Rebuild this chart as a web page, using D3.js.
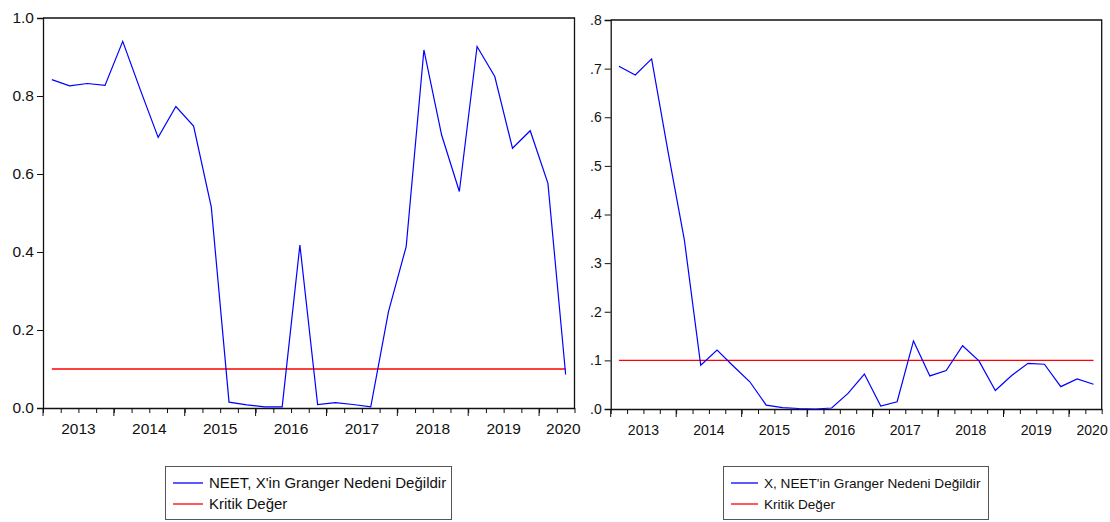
<!DOCTYPE html>
<html>
<head>
<meta charset="utf-8">
<script src="https://cdn.jsdelivr.net/npm/d3@7"></script>
<style>
  body { margin: 0; background: #fff; }
  svg { display: block; font-family: Arial, "Liberation Sans", sans-serif; }
  .axis path, .axis line { stroke: #111; }
</style>
</head>
<body>
<svg id="chart" width="1110" height="522"></svg>
<script>
// Quarterly rolling Granger test p-values, 2013Q1 - 2020Q2
var years = [2013, 2014, 2015, 2016, 2017, 2018, 2019, 2020];

var neetToX = [0.842, 0.826, 0.832, 0.827, 0.940, 0.815, 0.694, 0.773, 0.723, 0.515,
  0.015, 0.008, 0.003, 0.003, 0.418, 0.009, 0.014, 0.009, 0.003, 0.247,
  0.414, 0.918, 0.700, 0.555, 0.927, 0.850, 0.666, 0.711, 0.576, 0.086];

var xToNeet = [0.705, 0.687, 0.720, 0.530, 0.348, 0.090, 0.121, 0.088, 0.056, 0.008,
  0.003, 0.001, 0.000, 0.002, 0.032, 0.072, 0.006, 0.015, 0.140, 0.068,
  0.079, 0.130, 0.099, 0.038, 0.069, 0.094, 0.092, 0.046, 0.062, 0.051];

var critical = 0.1;

var leftTicks = [0, 0.2, 0.4, 0.6, 0.8, 1.0],
  rightTicks = [0, 0.1, 0.2, 0.3, 0.4, 0.5, 0.6, 0.7, 0.8];

var svg = d3.select("#chart");

function drawPanel(cfg) {
  var n = cfg.values.length;

  var x = d3.scaleLinear().domain([0, n]).range([cfg.left, cfg.right]);
  var y = d3.scaleLinear().domain(cfg.domain).range([cfg.bottom, cfg.top]);

  var g = svg.append("g");

  // frame: top and right lines
  g.append("path")
    .attr("d", "M" + cfg.left + "," + cfg.top + "H" + cfg.right + "V" + cfg.bottom)
    .attr("fill", "none")
    .attr("stroke", "#111")
    .attr("stroke-width", 1.3);

  // y axis
  var yAxis = g.append("g")
    .attr("class", "axis")
    .attr("transform", "translate(" + cfg.left + ",0)")
    .call(d3.axisLeft(y)
      .tickValues(cfg.ticks)
      .tickSize(6)
      .tickPadding(3)
      .tickFormat(cfg.format));
  yAxis.select(".domain").attr("stroke-width", 1.3);
  yAxis.selectAll("text").attr("font-size", cfg.fontSize).attr("fill", "#111");

  // x axis, one tick per quarter
  var xAxis = g.append("g")
    .attr("class", "axis")
    .attr("transform", "translate(0," + cfg.bottom + ")")
    .call(d3.axisBottom(x)
      .tickValues(d3.range(0, n + 1))
      .tickSize(5)
      .tickSizeOuter(0)
      .tickFormat(""));
  xAxis.select(".domain").attr("stroke-width", 1.3);

  // longer ticks at the start of each year
  g.append("g")
    .selectAll("line")
    .data(years.map(function(d, i) { return i * 4; }))
    .enter().append("line")
      .attr("x1", function(d) { return x(d); })
      .attr("x2", function(d) { return x(d); })
      .attr("y1", cfg.bottom)
      .attr("y2", cfg.bottom + 8)
      .attr("stroke", "#111");

  // year labels
  g.append("g")
    .selectAll("text")
    .data(years)
    .enter().append("text")
      .attr("x", function(d, i) {
        if (i == years.length - 1) return cfg.right + 6;
        return x(i * 4 + 2);
      })
      .attr("y", cfg.bottom + 26)
      .attr("text-anchor", function(d, i) { return i == years.length - 1 ? "end" : "middle"; })
      .attr("font-size", cfg.fontSize)
      .attr("fill", "#111")
      .text(function(d) { return d; });

  // critical value line
  g.append("line")
    .attr("x1", x(0.5))
    .attr("x2", x(n - 0.5))
    .attr("y1", y(critical))
    .attr("y2", y(critical))
    .attr("stroke", "#ff0000")
    .attr("stroke-width", 1.3);

  // p-value series
  var line = d3.line()
    .x(function(d, i) { return x(i + 0.5); })
    .y(function(d) { return y(d); });

  g.append("path")
    .datum(cfg.values)
    .attr("d", line)
    .attr("fill", "none")
    .attr("stroke", "#0000ff")
    .attr("stroke-width", 1.2);

  // legend
  var lg = g.append("g").attr("transform", "translate(" + cfg.legendX + ",466)");
  lg.append("rect")
    .attr("x", 0.5).attr("y", 0.5)
    .attr("width", cfg.legendW).attr("height", 53)
    .attr("fill", "#fff")
    .attr("stroke", "#555");

  var items = [
    {label: cfg.label, color: "#0000ff"},
    {label: "Kritik Değer", color: "#ff0000"}
  ];

  var row = lg.selectAll(".item")
    .data(items)
    .enter().append("g")
      .attr("class", "item")
      .attr("transform", function(d, i) { return "translate(0," + (17 + i * 21) + ")"; });

  row.append("line")
    .attr("x1", 8).attr("x2", cfg.sampleW)
    .attr("stroke", function(d) { return d.color; })
    .attr("stroke-width", 1.3);

  row.append("text")
    .attr("x", cfg.sampleW + 6)
    .attr("dy", "0.35em")
    .attr("font-size", cfg.legendFont)
    .attr("fill", "#111")
    .text(function(d) { return d.label; });
}

drawPanel({
  values: neetToX, domain: [0, 1], ticks: leftTicks,
  format: d3.format(".1f"), fontSize: 15.5, legendFont: 15,
  left: 43, right: 574.5, top: 18, bottom: 408,
  label: "NEET, X'in Granger Nedeni Değildir",
  legendX: 165, legendW: 286, sampleW: 38
});

drawPanel({
  values: xToNeet, domain: [0, 0.8], ticks: rightTicks,
  format: function(d) { return "." + Math.round(d * 10); },
  fontSize: 14, legendFont: 13.6,
  left: 610.7, right: 1101.7, top: 20, bottom: 409,
  label: "X, NEET'in Granger Nedeni Değildir",
  legendX: 723, legendW: 265, sampleW: 35
});
</script>
</body>
</html>
